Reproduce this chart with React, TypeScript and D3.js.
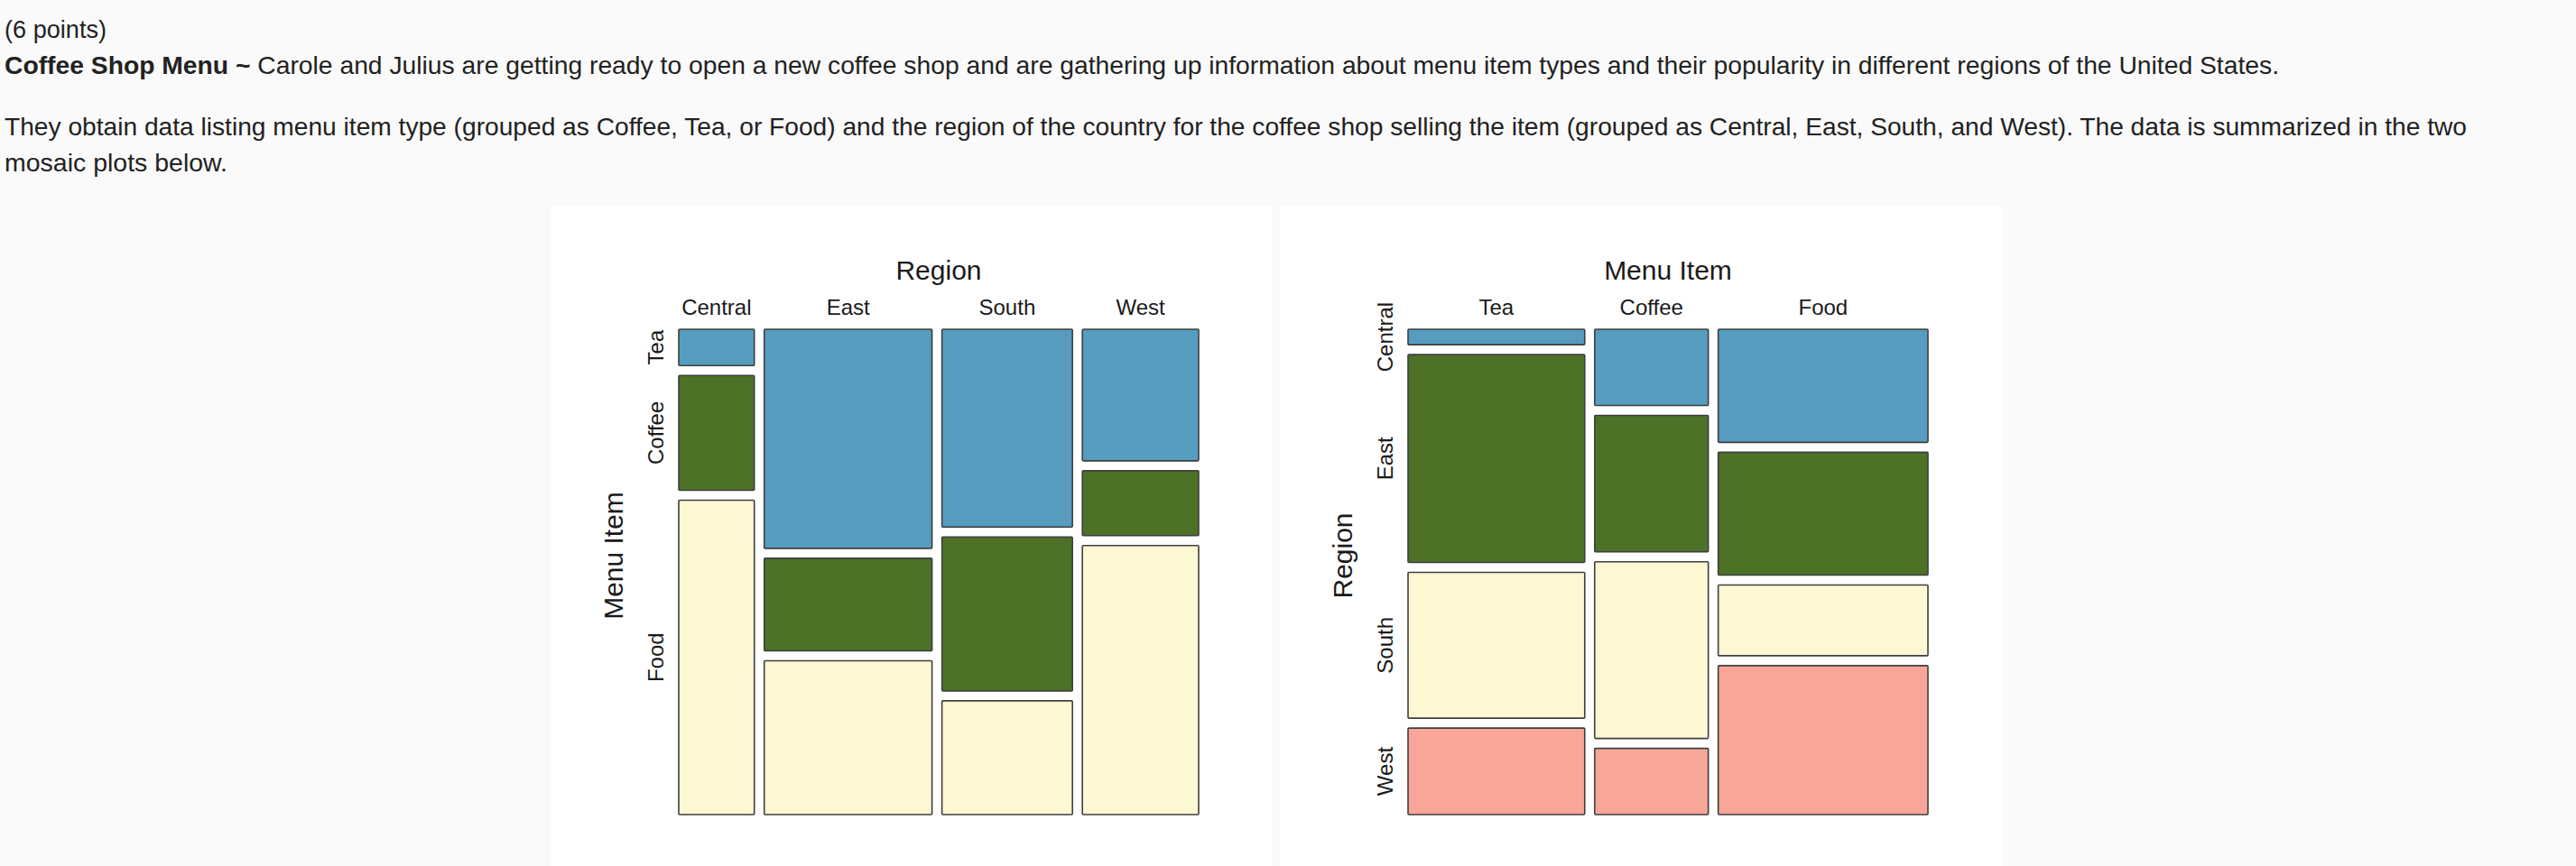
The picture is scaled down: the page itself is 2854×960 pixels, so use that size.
import * as d3 from "d3";

// categories
const regions = ["Central", "East", "South", "West"];
const items = ["Tea", "Coffee", "Food"];

// counts per region, in the order of items (Tea, Coffee, Food)
const central = [12, 38, 104];
const east = [161, 68, 113];
const south = [113, 88, 65];
const west = [67, 33, 137];
const byRegion = [central, east, south, west];

// same table seen per item, in the order of regions
const byItem = items.map((_, j) => byRegion.map((r) => r[j]));

const itemColors = ["#569cbe", "#4c7127", "#fdf7d3"];
const regionColors = ["#569cbe", "#4c7127", "#fdf7d3", "#f7a698"];

const font = "'Liberation Sans', Arial, Helvetica, sans-serif";

type MosaicProps = {
  left: number;
  colTitle: string;
  rowTitle: string;
  cols: string[];
  rows: string[];
  table: number[][];
  colors: string[];
};

function Mosaic({ left, colTitle, rowTitle, cols, rows, table, colors }: MosaicProps) {
  const px = left + 142;
  const py = 365;
  const pw = 576;
  const ph = 538;
  const gap = 11;

  const colTotals = table.map((c) => d3.sum(c));
  const total = d3.sum(colTotals);
  const x = d3.scaleLinear([0, total], [0, pw - gap * (cols.length - 1)]);
  const colStart = d3.cumsum([0, ...colTotals]);

  const cells = table.map((col, i) => {
    const x0 = px + x(colStart[i]) + i * gap;
    const w = x(colTotals[i]);
    const y = d3.scaleLinear([0, colTotals[i]], [0, ph - gap * (rows.length - 1)]);
    const rowStart = d3.cumsum([0, ...col]);
    return col.map((v, j) => ({
      key: `${i}-${j}`,
      x: x0,
      w,
      y: py + y(rowStart[j]) + j * gap,
      h: y(v),
      color: colors[j],
    }));
  });

  return (
    <g fontFamily={font} fill="#1a1a1a">
      <rect x={left} y={228} width={800} height={732} fill="#ffffff" />
      <text x={px + pw / 2} y={310} fontSize={30} textAnchor="middle">
        {colTitle}
      </text>
      {cols.map((c, i) => (
        <text
          key={c}
          x={cells[i][0].x + cells[i][0].w / 2}
          y={349}
          fontSize={24}
          textAnchor="middle"
        >
          {c}
        </text>
      ))}
      <text
        transform={`translate(${left + 80},616) rotate(-90)`}
        fontSize={30}
        textAnchor="middle"
      >
        {rowTitle}
      </text>
      {rows.map((r, j) => (
        <text
          key={r}
          transform={`translate(${left + 125},${cells[0][j].y + cells[0][j].h / 2}) rotate(-90)`}
          fontSize={24}
          textAnchor="middle"
        >
          {r}
        </text>
      ))}
      {cells.flat().map((c) => (
        <rect
          key={c.key}
          x={c.x}
          y={c.y}
          width={c.w}
          height={c.h}
          fill={c.color}
          stroke="#3f3f3f"
          strokeWidth={1.6}
          rx={1}
        />
      ))}
    </g>
  );
}

export default function App() {
  return (
    <svg
      width={2854}
      height={960}
      style={{ position: "absolute", left: 0, top: 0, display: "block" }}
    >
      <rect width={2854} height={960} fill="#fafafa" />
      <g fontFamily={font} fontSize={28} fill="#222222">
        <text x={5} y={42} textLength={113} lengthAdjust="spacingAndGlyphs">
          (6 points)
        </text>
        <text x={5} y={82} textLength={2520} lengthAdjust="spacingAndGlyphs">
          <tspan fontWeight="bold">Coffee Shop Menu ~</tspan>
          <tspan>
            {" "}
            Carole and Julius are getting ready to open a new coffee shop and are gathering up
            information about menu item types and their popularity in different regions of the
            United States.
          </tspan>
        </text>
        <text x={5} y={150} textLength={2728} lengthAdjust="spacingAndGlyphs">
          They obtain data listing menu item type (grouped as Coffee, Tea, or Food) and the region
          of the country for the coffee shop selling the item (grouped as Central, East, South, and
          West). The data is summarized in the two
        </text>
        <text x={5} y={190} textLength={247} lengthAdjust="spacingAndGlyphs">
          mosaic plots below.
        </text>
      </g>
      <Mosaic
        left={610}
        colTitle="Region"
        rowTitle="Menu Item"
        cols={regions}
        rows={items}
        table={byRegion}
        colors={itemColors}
      />
      <Mosaic
        left={1418}
        colTitle="Menu Item"
        rowTitle="Region"
        cols={items}
        rows={regions}
        table={byItem}
        colors={regionColors}
      />
    </svg>
  );
}
